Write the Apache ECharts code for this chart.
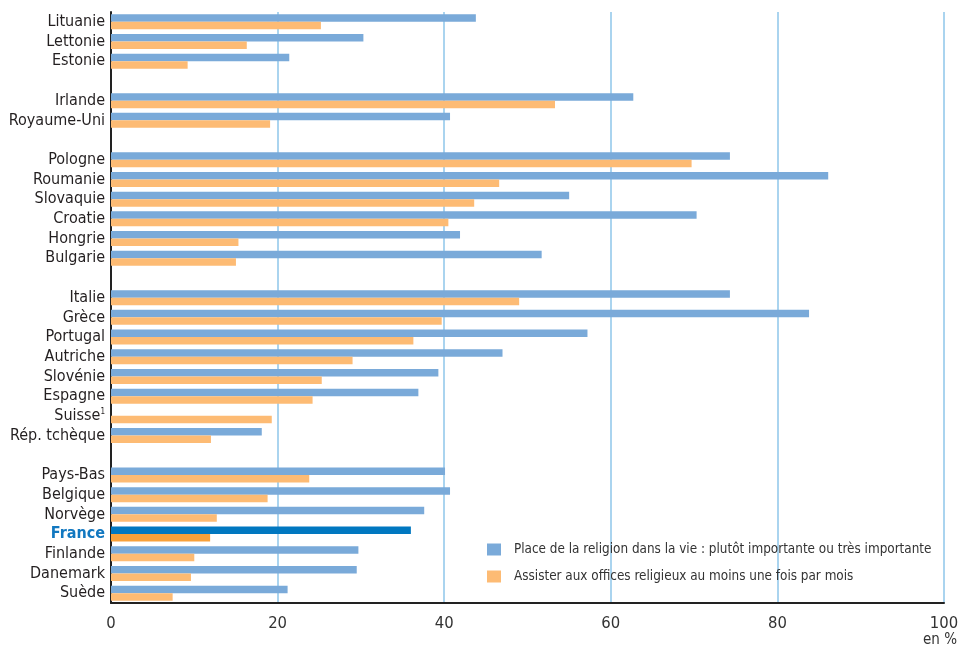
<!DOCTYPE html>
<html>
<head>
<meta charset="utf-8">
<script src="https://cdn.jsdelivr.net/npm/echarts@6/dist/echarts.min.js"></script>
<style>
html,body{margin:0;padding:0;background:#fff;}
#c{width:960px;height:647px;}
</style>
</head>
<body>
<div id="c"></div>
<script>
// Categories (blank strings are spacer rows between country groups)
const categories = [
  'Lituanie','Lettonie','Estonie',' ',
  'Irlande','Royaume-Uni','  ',
  'Pologne','Roumanie','Slovaquie','Croatie','Hongrie','Bulgarie','   ',
  'Italie','Grèce','Portugal','Autriche','Slovénie','Espagne','Suisse','Rép. tchèque','    ',
  'Pays-Bas','Belgique','Norvège','France','Finlande','Danemark','Suède'
];
// Place de la religion dans la vie : plutôt importante ou très importante (%)
const religionImportante = [
  43.8, 30.3, 21.4, null,
  62.7, 40.7, null,
  74.3, 86.1, 55.0, 70.3, 41.9, 51.7, null,
  74.3, 83.8, 57.2, 47.0, 39.3, 36.9, null, 18.1, null,
  40.1, 40.7, 37.6, 36.0, 29.7, 29.5, 21.2
];
// Assister aux offices religieux au moins une fois par mois (%)
const officesMensuels = [
  25.2, 16.3, 9.2, null,
  53.3, 19.1, null,
  69.7, 46.6, 43.6, 40.5, 15.3, 15.0, null,
  49.0, 39.7, 36.3, 29.0, 25.3, 24.2, 19.3, 12.0, null,
  23.8, 18.8, 12.7, 11.9, 10.0, 9.6, 7.4
];
const xTicks = [0, 20, 40, 60, 80, 100];
const seriesNames = [
  'Place de la religion dans la vie : plutôt importante ou très importante',
  'Assister aux offices religieux au moins une fois par mois'
];

const BLUE = '#7aaad9', ORANGE = '#fdbb74';
const BLUE_FR = '#0077c0', ORANGE_FR = '#f7a03a';
const FONT = "'Liberation Sans Narrow','Arial Narrow','DejaVu Sans Condensed',sans-serif";

function withHighlight(arr, color) {
  return arr.map((v, i) => categories[i] === 'France' ? { value: v, itemStyle: { color: color } } : v);
}

const chart = echarts.init(document.getElementById('c'), null, { renderer: 'canvas' });
chart.setOption({
  animation: false,
  backgroundColor: '#fff',
  grid: { left: 111, right: 16, top: 12, bottom: 44, containLabel: false, outerBoundsMode: 'none' },
  legend: {
    orient: 'vertical',
    left: 487, top: 543, padding: 0,
    itemWidth: 14, itemHeight: 12, itemGap: 14,
    icon: 'rect',
    data: seriesNames,
    textStyle: { fontFamily: FONT, fontSize: 13.4, color: '#333', padding: [0, 0, 0, 8] }
  },
  xAxis: {
    type: 'value',
    min: 0, max: 100, interval: 20,
    axisLine: { show: true, lineStyle: { color: '#222', width: 2 } },
    axisTick: { show: false },
    axisLabel: {
      margin: 12, fontFamily: FONT, fontSize: 16.5, color: '#333',
      formatter: v => xTicks.includes(v) ? String(v) : ''
    },
    splitLine: { show: true, lineStyle: { color: '#aad4ef', width: 2 } }
  },
  yAxis: {
    type: 'category',
    inverse: true,
    data: categories,
    axisLine: { show: true, lineStyle: { color: '#222', width: 2 } },
    axisTick: { show: false },
    axisLabel: {
      margin: 6,
      interval: 0,
      formatter: function (v) {
        if (v.trim() === '') return '';
        if (v === 'France') return '{fr|France}';
        if (v === 'Suisse') return '{n|Suisse}{sup|1}';
        return '{n|' + v + '}';
      },
      rich: {
        n: { fontFamily: FONT, fontSize: 16, color: '#231f20' },
        fr: { fontFamily: FONT, fontSize: 16, color: '#1278c0', fontWeight: 'bold' },
        sup: { fontFamily: FONT, fontSize: 8, color: '#231f20', verticalAlign: 'top', padding: [0, 0, 8, 0] }
      }
    }
  },
  graphic: [{
    type: 'text', right: 3, top: 633,
    style: { text: 'en %', fontFamily: FONT, fontSize: 15, fill: '#333' }
  }],
  series: [
    {
      name: seriesNames[0], type: 'bar',
      data: withHighlight(religionImportante, BLUE_FR),
      itemStyle: { color: BLUE },
      barWidth: 7.5, barGap: '0%'
    },
    {
      name: seriesNames[1], type: 'bar',
      data: withHighlight(officesMensuels, ORANGE_FR),
      itemStyle: { color: ORANGE },
      barWidth: 7.5, barGap: '0%'
    }
  ]
});
</script>
</body>
</html>
